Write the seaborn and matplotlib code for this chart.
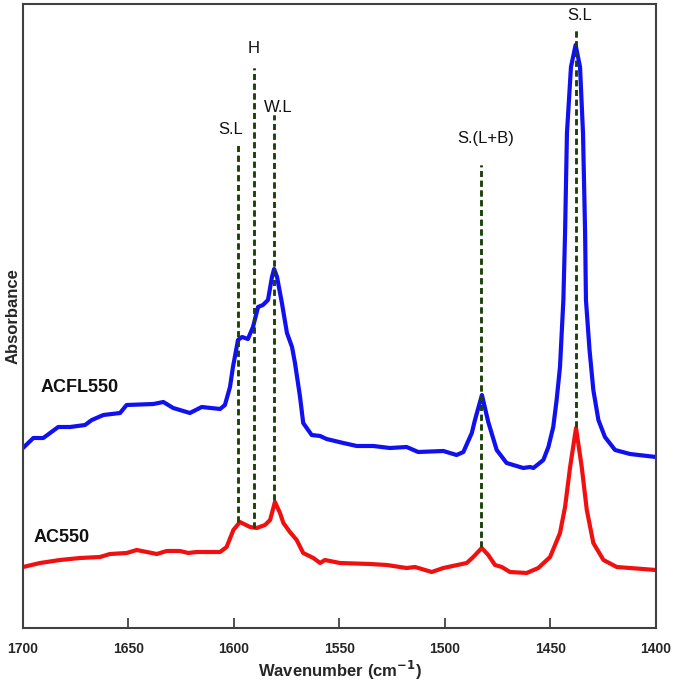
import matplotlib
matplotlib.use("Agg")
import matplotlib.pyplot as plt
import seaborn as sns
import pandas as pd

# ---- data ----
acfl_wn = [1700, 1695.1, 1690.4, 1683.3, 1677.7, 1670.6, 1667.4, 1661.9, 1654.0, 1650.9,
           1638.2, 1633.5, 1628.8, 1620.9, 1615.3, 1606.6, 1604.3, 1601.9, 1600.5, 1598.1,
           1596.2, 1593.4, 1591.0, 1588.6, 1586.3, 1583.9, 1582.0, 1581.0, 1579.6, 1577.3,
           1574.9, 1572.5, 1571.1, 1568.7, 1567.2, 1563.2, 1559.2, 1556.1, 1548.2, 1541.8,
           1534.0, 1526.1, 1518.2, 1512.7, 1500.8, 1494.5, 1491.3, 1487.3, 1485.8, 1482.5,
           1479.5, 1475.5, 1470.8, 1462.9, 1459.7, 1458.1, 1453.4, 1451.0, 1448.7, 1447.1,
           1445.5, 1443.9, 1443.1, 1442.2, 1440.3, 1438.1, 1436.0, 1434.6, 1433.6, 1433.2,
           1431.5, 1429.7, 1427.3, 1424.2, 1419.4, 1412.3, 1400]
acfl_abs = [1.80, 1.90, 1.90, 2.01, 2.01, 2.03, 2.08, 2.13, 2.15, 2.23,
            2.24, 2.26, 2.20, 2.15, 2.21, 2.19, 2.23, 2.41, 2.61, 2.88,
            2.91, 2.89, 3.01, 3.21, 3.23, 3.28, 3.51, 3.59, 3.51, 3.25,
            2.95, 2.81, 2.65, 2.31, 2.05, 1.93, 1.92, 1.89, 1.85, 1.82,
            1.82, 1.80, 1.81, 1.76, 1.77, 1.73, 1.76, 1.95, 2.08, 2.33,
            2.06, 1.78, 1.65, 1.60, 1.61, 1.60, 1.68, 1.81, 2.01, 2.28,
            2.61, 3.28, 3.95, 4.95, 5.61, 5.83, 5.61, 4.95, 3.95, 3.28,
            2.78, 2.38, 2.08, 1.91, 1.78, 1.74, 1.71]

ac_wn = [1700, 1691.9, 1682.5, 1673.0, 1663.5, 1658.8, 1650.9, 1646.1, 1636.6, 1631.9,
         1625.6, 1621.7, 1617.7, 1606.6, 1603.5, 1600.3, 1597.2, 1592.4, 1589.2, 1585.3,
         1582.9, 1580.6, 1578.2, 1576.6, 1573.5, 1570.3, 1567.2, 1562.4, 1559.2, 1556.9,
         1549.8, 1535.5, 1527.6, 1518.2, 1514.2, 1506.3, 1500.8, 1489.7, 1486.6, 1482.6,
         1479.5, 1476.3, 1473.1, 1469.2, 1461.3, 1455.8, 1450.2, 1445.5, 1443.1, 1440.7,
         1437.9, 1435.2, 1432.8, 1429.7, 1424.9, 1418.6, 1400]
ac_abs = [0.61, 0.65, 0.68, 0.70, 0.71, 0.74, 0.75, 0.78, 0.74, 0.77,
          0.77, 0.75, 0.76, 0.76, 0.81, 0.98, 1.06, 1.01, 1.00, 1.03,
          1.08, 1.26, 1.15, 1.05, 0.96, 0.88, 0.75, 0.70, 0.65, 0.68,
          0.65, 0.64, 0.63, 0.60, 0.61, 0.56, 0.60, 0.65, 0.71, 0.80,
          0.73, 0.63, 0.61, 0.56, 0.55, 0.60, 0.71, 0.95, 1.21, 1.61,
          2.00, 1.61, 1.18, 0.85, 0.68, 0.61, 0.58]

series_names = ["ACFL550", "AC550"]

# band markers
band_pos = [1598.2, 1590.5, 1581.2, 1483.0, 1438.0]
band_labels = ["S.L", "H", "W.L", "S.(L+B)", "S.L"]
band_bottom = [1.06, 1.00, 1.28, 0.81, 2.01]
band_top = [4.86, 5.60, 5.13, 4.63, 6.00]
label_x = [1601.4, 1590.5, 1579.0, 1480.5, 1436.0]
label_y = [4.98, 5.80, 5.21, 4.90, 6.13]

x_ticks = [1700, 1650, 1600, 1550, 1500, 1450, 1400]

# ---- plot ----
sns.set_style("white")
plt.rcParams["font.family"] = ["Liberation Sans", "DejaVu Sans"]

fig = plt.figure(figsize=(6.75, 6.81), dpi=100)
ax = fig.add_axes([23 / 675, 53 / 681, 633 / 675, 624 / 681])

df_b = pd.DataFrame({"wn": acfl_wn, "abs": acfl_abs})
df_r = pd.DataFrame({"wn": ac_wn, "abs": ac_abs})

dash = (0, (2.4, 1.5))
for xp, yb, yt in zip(band_pos, band_bottom, band_top):
    ax.plot([xp, xp], [yb, yt], color="#1a4208", lw=1.8, linestyle=dash, zorder=1)

sns.lineplot(data=df_b, x="wn", y="abs", color="#1010f0", lw=3.0, ax=ax,
             sort=False, zorder=2, solid_joinstyle="round", solid_capstyle="round")
sns.lineplot(data=df_r, x="wn", y="abs", color="#f01010", lw=3.0, ax=ax,
             sort=False, zorder=2, solid_joinstyle="round", solid_capstyle="round")

for xp, yb, yt in zip(band_pos, band_bottom, band_top):
    ax.plot([xp, xp], [yb, yt], color="#1a4208", lw=1.8, linestyle=dash, zorder=3)

for lx, ly, lab in zip(label_x, label_y, band_labels):
    ax.text(lx, ly, lab, ha="center", va="center", fontsize=12, color="#111111")

ax.text(1673, 2.41, series_names[0], ha="center", va="center",
        fontsize=13, fontweight="bold", color="#111111")
ax.text(1681.5, 0.91, series_names[1], ha="center", va="center",
        fontsize=13, fontweight="bold", color="#111111")

ax.set_xlim(1700, 1400)
ax.set_ylim(0, 6.24)
ax.set_xticks(x_ticks)
ax.set_xticklabels([str(t) for t in x_ticks], fontsize=10, fontweight="bold")
ax.set_yticks([])
ax.tick_params(axis="x", direction="in", length=7, width=1.2, color="#333333",
               pad=10, bottom=True, top=False)
ax.set_xlabel("Wavenumber (cm$^{\\mathbf{-1}}$)", fontsize=12, fontweight="bold", labelpad=2)
ax.set_ylabel("Absorbance", fontsize=12, fontweight="bold", labelpad=2)
for s in ax.spines.values():
    s.set_color("#404040")
    s.set_linewidth(1.5)
    s.set_visible(True)

fig.savefig("out.png", dpi=100)
